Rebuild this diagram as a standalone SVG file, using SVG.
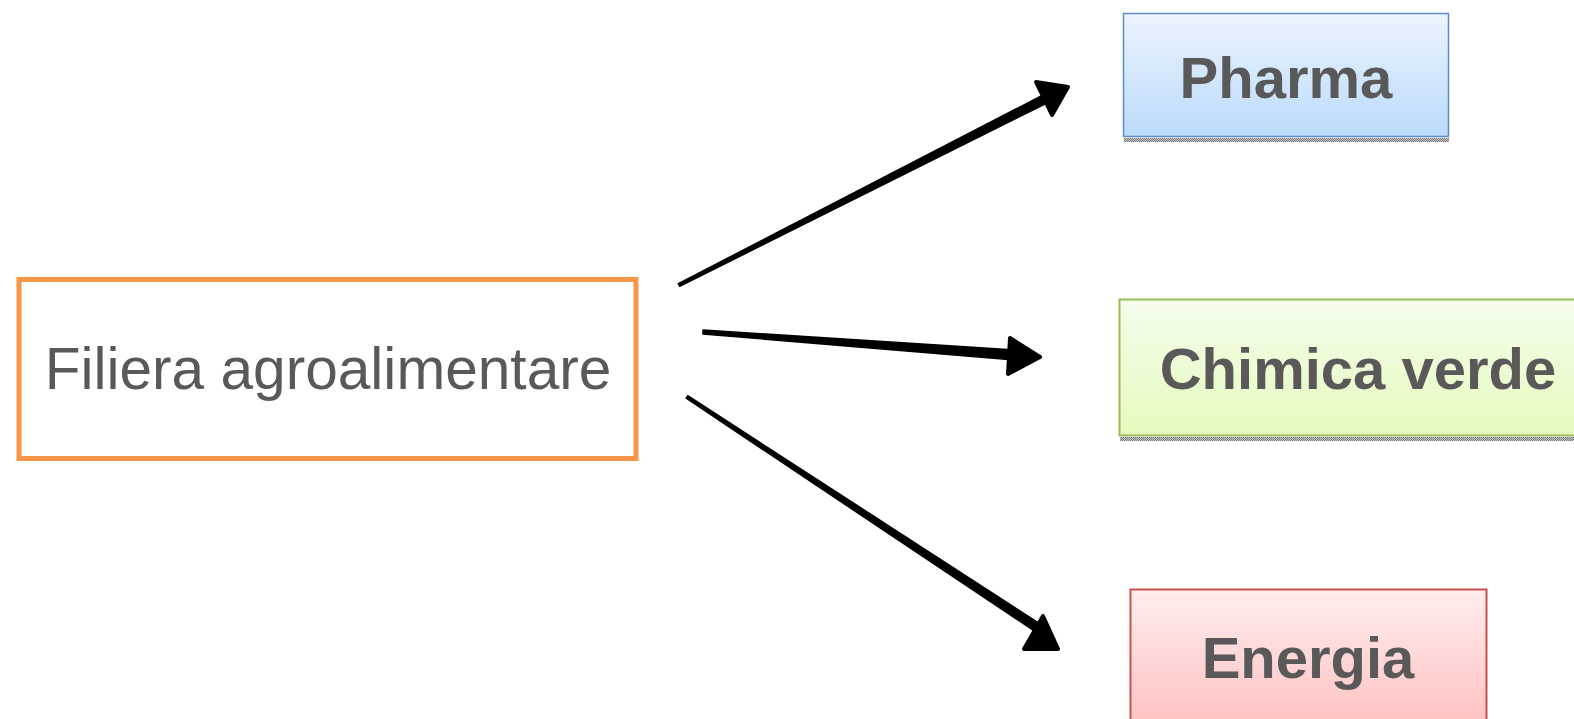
<svg xmlns="http://www.w3.org/2000/svg" width="1574" height="719" viewBox="0 0 1574 719">
<style>
.lbl{font-family:"Liberation Sans",Arial,sans-serif;fill:#595959;font-size:58px;text-anchor:middle}
.b{font-weight:bold}
.arr{fill:#000;stroke:#000;stroke-width:1.5;stroke-linejoin:round}
.head{fill:#000;stroke:#000;stroke-width:4;stroke-linejoin:round}
</style>
<defs>
<linearGradient id="gBlue" x1="0" y1="0" x2="0" y2="1"><stop offset="0" stop-color="#ecf4fe"/><stop offset="1" stop-color="#bbdafb"/></linearGradient>
<linearGradient id="gGreen" x1="0" y1="0" x2="0" y2="1"><stop offset="0" stop-color="#f4fdec"/><stop offset="1" stop-color="#e5fbbd"/></linearGradient>
<linearGradient id="gRed" x1="0" y1="0" x2="0" y2="1"><stop offset="0" stop-color="#ffeded"/><stop offset="1" stop-color="#ffc0c0"/></linearGradient>
<pattern id="shadow" width="2" height="2" patternUnits="userSpaceOnUse"><rect width="2" height="2" fill="#c8c8c8"/><rect width="1" height="1" fill="#7a7a7a"/><rect x="1" y="1" width="1" height="1" fill="#7a7a7a"/></pattern>
</defs>
<rect width="1574" height="719" fill="#fff"/>
<g id="filiera">
<rect x="19" y="279.5" width="617" height="179" fill="#fff" stroke="#f79646" stroke-width="5"/>
<text class="lbl" x="328" y="389" style="font-size:58.6px">Filiera agroalimentare</text>
</g>
<g id="pharma">
<rect x="1124" y="138" width="325" height="4" fill="url(#shadow)"/>
<rect x="1123.5" y="13.5" width="325" height="123" fill="url(#gBlue)" stroke="#5b8bc9" stroke-width="1.5"/>
<text class="lbl b" x="1286" y="98">Pharma</text>
</g>
<g id="chimica">
<rect x="1120" y="437" width="460" height="4" fill="url(#shadow)"/>
<rect x="1119.5" y="299.5" width="470" height="136" fill="url(#gGreen)" stroke="#9bbb59" stroke-width="2"/>
<text class="lbl b" x="1358" y="389">Chimica verde</text>
</g>
<g id="energia">
<rect x="1130.5" y="589.5" width="356" height="140" fill="url(#gRed)" stroke="#c9504d" stroke-width="2"/>
<text class="lbl b" x="1308" y="678">Energia</text>
</g>
<g id="connectors">
<polygon class="arr" points="679.68,286.34 1049.04,102.01 1044.96,93.99 678.32,283.66"/>
<polygon class="head" points="1068,87 1036,82 1052,115"/>
<polygon class="arr" points="702.85,333.99 1014.63,359.99 1015.37,350.01 703.15,330.01"/>
<polygon class="head" points="1040,357 1010,338 1008,374"/>
<polygon class="arr" points="686.17,398.25 1035.52,631.76 1040.48,624.24 687.83,395.75"/>
<polygon class="head" points="1058,649 1043,616 1024,649"/>
</g>
</svg>
